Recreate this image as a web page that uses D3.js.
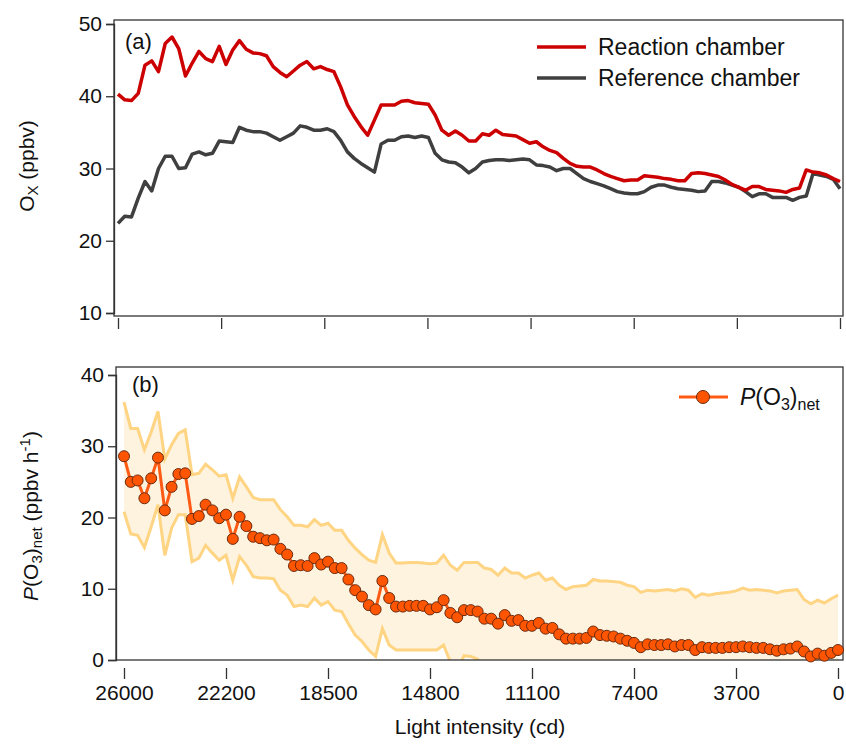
<!DOCTYPE html>
<html><head><meta charset="utf-8">
<script src="https://cdn.jsdelivr.net/npm/d3@7/dist/d3.min.js"></script>
<style>body{margin:0;background:#fff}text{font-family:"Liberation Sans",Arial,sans-serif;fill:#111}</style>
</head><body><svg id="c" width="846" height="745"></svg>
<script>
const xTickLabels=["26000","22200","18500","14800","11100","7400","3700","0"];
const reaction=[40.3,39.5,39.4,40.4,44.3,44.9,43.4,47.3,48.2,46.6,42.8,44.6,46.2,45.2,44.8,46.9,44.4,46.4,47.7,46.5,46.0,45.9,45.6,44.1,43.3,42.7,43.5,44.3,44.8,43.8,44.1,43.7,43.4,41.3,38.8,37.2,35.8,34.6,36.7,38.8,38.8,38.8,39.3,39.4,39.1,39.0,38.9,37.4,35.3,34.6,35.2,34.6,33.8,33.8,34.8,34.6,35.3,34.7,34.6,
34.5,34.0,33.5,33.7,33.0,32.5,32.2,31.4,30.7,30.3,30.2,30.2,29.8,29.3,28.9,28.6,28.3,28.4,28.4,29.0,28.9,28.8,28.6,28.5,28.3,28.3,29.3,29.4,29.3,29.1,28.9,28.4,27.8,27.4,27.0,27.5,27.5,27.1,27.0,26.9,26.7,27.1,27.3,29.8,29.5,29.4,29.1,28.6,28.2];
const reference=[22.4,23.4,23.3,25.9,28.2,26.9,30.0,31.7,31.7,30.0,30.1,32.0,32.3,31.9,32.1,33.8,33.7,33.6,35.7,35.3,35.1,35.1,34.9,34.4,33.9,34.4,34.9,35.9,35.7,35.3,35.3,35.5,35.1,33.9,32.3,31.4,30.7,30.1,29.5,33.4,33.9,33.9,34.4,34.5,34.3,34.5,34.3,32.1,31.2,30.9,30.8,30.2,29.4,30.0,30.9,31.1,31.2,31.2,31.1,
31.2,31.3,31.2,30.5,30.4,30.2,29.7,30.0,30.0,29.3,28.6,28.2,27.9,27.6,27.2,26.8,26.6,26.5,26.5,26.8,27.4,27.7,27.7,27.4,27.2,27.1,27.0,26.8,26.9,28.2,28.2,28.0,27.7,27.4,26.8,26.1,26.5,26.5,26.0,26.0,26.0,25.6,26.0,26.2,29.3,29.1,28.9,28.5,27.2];
const pNet=[28.6,25.0,25.2,22.7,25.5,28.4,21.0,24.3,26.1,26.2,19.8,20.2,21.8,21.0,19.9,20.4,17.0,20.1,18.8,17.3,17.1,16.8,16.9,15.6,14.8,13.2,13.3,13.2,14.3,13.4,13.8,12.9,12.9,11.3,9.8,8.9,7.7,7.1,11.1,8.7,7.5,7.5,7.6,7.6,7.6,7.1,7.4,8.4,6.6,6.0,7.0,7.0,6.8,5.8,5.8,5.1,6.3,5.5,5.6,
4.8,4.8,5.2,4.4,4.5,3.6,3.0,3.0,3.0,3.1,4.0,3.5,3.4,3.3,3.0,2.7,2.4,1.8,2.2,2.1,2.1,2.2,1.9,2.1,2.1,1.4,1.8,1.7,1.7,1.7,1.8,1.8,1.9,1.8,1.7,1.7,1.5,1.3,1.5,1.6,1.9,1.2,0.5,0.9,0.6,1.0,1.4];
const pUpper=[36.2,32.5,32.5,29.5,32.0,34.9,28.2,30.2,31.8,32.3,26.0,26.2,27.5,26.7,25.8,26.0,22.7,25.7,24.3,22.8,22.5,22.5,22.5,21.1,20.1,18.9,18.9,18.7,19.7,18.9,19.2,18.2,18.2,16.8,15.7,14.8,14.0,13.7,17.6,15.0,13.6,13.6,13.7,13.7,13.6,13.5,13.6,14.7,13.3,12.6,13.7,13.7,13.7,12.9,12.7,11.9,12.9,12.2,12.2,
11.5,11.9,12.2,11.2,11.5,10.5,9.9,10.3,10.4,10.5,11.3,11.1,11.1,11.0,10.9,10.5,10.3,9.5,9.8,9.7,9.8,9.9,9.7,10.0,9.8,8.8,9.3,9.1,9.3,9.4,9.5,9.7,10.1,9.8,9.9,9.8,9.7,9.4,9.7,9.8,9.9,8.5,7.9,8.4,8.0,8.6,9.1];
const pLower=[20.8,17.7,17.5,15.8,18.7,21.8,14.7,18.5,20.4,20.4,13.8,14.3,16.1,15.0,14.0,14.7,11.2,14.5,13.3,11.7,11.5,11.5,11.4,9.8,9.1,7.5,7.7,7.5,8.7,7.7,8.2,7.0,6.8,5.1,3.5,2.6,1.4,0.5,4.4,2.1,1.4,1.4,1.4,1.4,1.4,1.4,1.4,2.1,-0.3,-1.5,0.6,0.5,0.1,-1.8,-2.0,-3.0,-1.8,-2.7,-2.6,
-3.5,-3.4,-3.0,-3.8,-3.6,-4.4,-5.0,-4.9,-4.9,-4.8,-4.0,-4.5,-4.6,-4.7,-5.0,-5.2,-5.4,-6.0,-5.5,-5.6,-5.6,-5.6,-5.9,-5.8,-5.8,-6.2,-5.9,-6.0,-6.0,-6.1,-6.0,-6.0,-6.0,-6.0,-6.1,-6.1,-6.3,-6.5,-6.4,-6.3,-6.0,-6.4,-6.8,-6.6,-6.8,-6.6,-6.3];

const svg=d3.select("#c");
const xaT=d3.scaleLinear().domain([0,7]).range([118,840]);
const xT=d3.scaleLinear().domain([0,reaction.length-1]).range([118,840]);
const yT=d3.scaleLinear().domain([10,50]).range([313,24]);
svg.append("rect").attr("x",114).attr("y",20).attr("width",729).attr("height",296).attr("fill","none").attr("stroke","#333").attr("stroke-width",1.3);
const lineT=d3.line().x((d,i)=>xT(i)).y(d=>yT(d));
svg.append("path").datum(reference).attr("d",lineT).attr("fill","none").attr("stroke","#3f3f3f").attr("stroke-width",3.5).attr("stroke-linejoin","round");
svg.append("path").datum(reaction).attr("d",lineT).attr("fill","none").attr("stroke","#cc0000").attr("stroke-width",3.5).attr("stroke-linejoin","round");
svg.append("g").attr("transform","translate(114,0)").call(d3.axisLeft(yT).tickValues([10,20,30,40,50]).tickSize(8).tickPadding(4));
const gxT=svg.append("g").attr("transform","translate(0,318)").call(d3.axisBottom(xaT).tickValues(d3.range(8)).tickSize(11).tickFormat(""));
gxT.select(".domain").remove();
[["Reaction chamber","#cc0000",47],["Reference chamber","#3f3f3f",78]].forEach(([t,c,y])=>{
  svg.append("line").attr("x1",537).attr("x2",586).attr("y1",y).attr("y2",y).attr("stroke",c).attr("stroke-width",3.5);
  svg.append("text").attr("x",598).attr("y",y+8).attr("font-size",23).text(t);
});
svg.append("text").attr("x",125).attr("y",49).attr("font-size",22).text("(a)");
svg.append("text").attr("transform","translate(34,166) rotate(-90)").attr("text-anchor","middle").attr("font-size",21)
 .html('O<tspan font-size="15" dy="4">X</tspan><tspan dy="-4"> (ppbv)</tspan>');

const xaB=d3.scaleLinear().domain([0,7]).range([124,838]);
const xB=d3.scaleLinear().domain([0,pNet.length-1]).range([124,838]);
const yB=d3.scaleLinear().domain([0,40]).range([660,375]);
svg.append("defs").append("clipPath").attr("id","clipB").append("rect").attr("x",116).attr("y",367).attr("width",727).attr("height",293);
const gB=svg.append("g").attr("clip-path","url(#clipB)");
const area=d3.area().x((d,i)=>xB(i)).y0((d,i)=>yB(pLower[i])).y1(d=>yB(d));
gB.append("path").datum(pUpper).attr("d",area).attr("fill","#fdf3de");
const lB=d3.line().x((d,i)=>xB(i)).y(d=>yB(d));
gB.append("path").datum(pUpper).attr("d",lB).attr("fill","none").attr("stroke","#ffd483").attr("stroke-width",3);
gB.append("path").datum(pLower).attr("d",lB).attr("fill","none").attr("stroke","#ffd483").attr("stroke-width",3);
svg.append("rect").attr("x",116).attr("y",367).attr("width",727).attr("height",293).attr("fill","none").attr("stroke","#333").attr("stroke-width",1.3);
svg.append("path").datum(pNet).attr("d",lB).attr("fill","none").attr("stroke","#ff5a14").attr("stroke-width",3);
svg.append("g").selectAll("circle").data(pNet).join("circle").attr("cx",(d,i)=>xB(i)).attr("cy",d=>yB(d)).attr("r",5.5)
 .attr("fill","#ff5500").attr("stroke","#6a2a10").attr("stroke-width",1);
svg.append("g").attr("transform","translate(116,0)").call(d3.axisLeft(yB).tickValues([0,10,20,30,40]).tickSize(8).tickPadding(4));
const gxB=svg.append("g").attr("transform","translate(0,668)").call(d3.axisBottom(xaB).tickValues(d3.range(8)).tickSize(11).tickPadding(6).tickFormat(i=>xTickLabels[i]));
gxB.select(".domain").remove();
svg.append("text").attr("x",480).attr("y",734).attr("text-anchor","middle").attr("font-size",21).text("Light intensity (cd)");
svg.append("text").attr("x",132).attr("y",392).attr("font-size",22).text("(b)");
svg.append("line").attr("x1",679).attr("x2",728).attr("y1",397).attr("y2",397).attr("stroke","#ff5a14").attr("stroke-width",3);
svg.append("circle").attr("cx",703).attr("cy",397).attr("r",6.5).attr("fill","#ff5500").attr("stroke","#6a2a10");
svg.append("text").attr("x",740).attr("y",405).attr("font-size",23)
 .html('<tspan font-style="italic">P</tspan>(O<tspan font-size="16" dy="5">3</tspan><tspan dy="-5">)</tspan><tspan font-size="16" dy="5">net</tspan>');
svg.append("text").attr("transform","translate(38,516) rotate(-90)").attr("text-anchor","middle").attr("font-size",21)
 .html('<tspan font-style="italic">P</tspan>(O<tspan font-size="15" dy="4">3</tspan><tspan dy="-4">)</tspan><tspan font-size="15" dy="4">net</tspan><tspan dy="-4"> (ppbv h</tspan><tspan font-size="15" dy="-8">-1</tspan><tspan dy="8">)</tspan>');
svg.selectAll(".tick text").attr("font-size",21).attr("fill","#111").attr("font-family","Liberation Sans, Arial, sans-serif");
svg.selectAll(".tick line,.domain").attr("stroke","#333").attr("stroke-width",1.3);
</script></body></html>
